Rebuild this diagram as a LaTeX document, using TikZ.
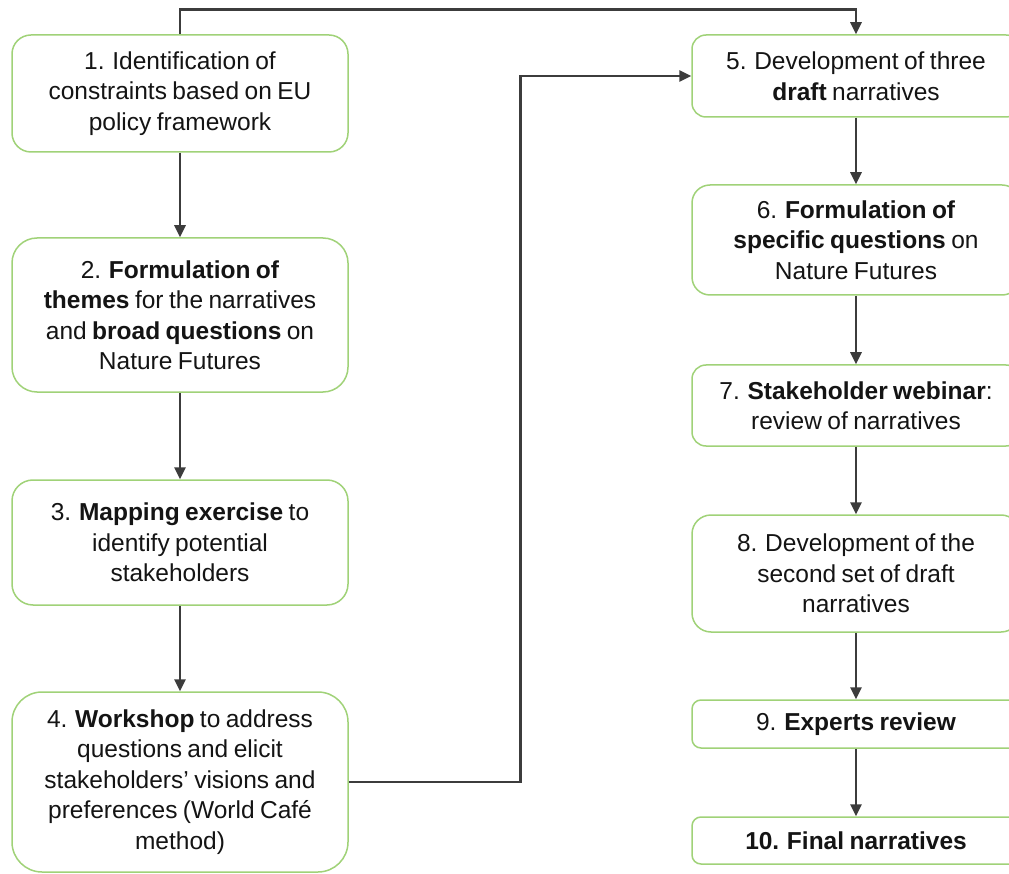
\documentclass[tikz,border=0pt]{standalone}
\usepackage{fontspec}
\setmainfont{Liberation Sans}[WordSpace=0.8]
\usetikzlibrary{arrows.meta}
\definecolor{boxgreen}{RGB}{160,210,120}
\definecolor{arrowgrey}{RGB}{60,60,60}
\definecolor{txt}{RGB}{20,20,20}
\tikzset{
  stepbox/.style={draw=boxgreen, line width=1.5pt, fill=white, rectangle,
    align=center, text=txt, inner sep=0pt,
    font=\fontsize{24.5}{30.5}\selectfont},
  flow/.style={draw=arrowgrey, line width=2.6pt,
    -{Triangle[length=12pt,width=11pt]}},
}
\begin{document}
\begin{tikzpicture}[x=1pt,y=-1pt]
\useasboundingbox (0,0) rectangle (1009,874);
\clip (0,0) rectangle (1009,874);
% left column
\node[stepbox, minimum width=336pt, minimum height=117pt, rounded corners=19pt] (b1) at (180,93.5)
  {1. Identification of\\constraints based on EU\\policy framework};
\node[stepbox, minimum width=336pt, minimum height=154pt, rounded corners=25pt] (b2) at (180,315)
  {2. \textbf{Formulation of}\\\textbf{themes} for the narratives\\and \textbf{broad questions} on\\Nature Futures};
\node[stepbox, minimum width=336pt, minimum height=125pt, rounded corners=21pt] (b3) at (180,542.5)
  {3. \textbf{Mapping exercise} to\\identify potential\\stakeholders};
\node[stepbox, minimum width=336pt, minimum height=180pt, rounded corners=30pt] (b4) at (180,782)
  {4. \textbf{Workshop} to address\\questions and elicit\\stakeholders’ visions and\\preferences (World Café\\method)};
% right column
\node[stepbox, minimum width=328pt, minimum height=82pt, rounded corners=14pt] (b5) at (856,76)
  {5. Development of three\\\textbf{draft} narratives};
\node[stepbox, minimum width=328pt, minimum height=110pt, rounded corners=18pt] (b6) at (856,240)
  {6. \textbf{Formulation of}\\\textbf{specific questions} on\\Nature Futures};
\node[stepbox, minimum width=328pt, minimum height=81pt, rounded corners=14pt] (b7) at (856,405.5)
  {7. \textbf{Stakeholder webinar}:\\review of narratives};
\node[stepbox, minimum width=328pt, minimum height=117pt, rounded corners=19pt] (b8) at (856,573.5)
  {8. Development of the\\second set of draft\\narratives};
\node[stepbox, minimum width=328pt, minimum height=48pt, rounded corners=9pt] (b9) at (856,724)
  {9. \textbf{Experts review}};
\node[stepbox, minimum width=328pt, minimum height=47pt, rounded corners=9pt] (b10) at (856,840.5)
  {\textbf{10. Final narratives}};
% connectors
\draw[flow] (b1) -- (b2);
\draw[flow] (b2) -- (b3);
\draw[flow] (b3) -- (b4);
\draw[flow] (b5) -- (b6);
\draw[flow] (b6) -- (b7);
\draw[flow] (b7) -- (b8);
\draw[flow] (b8) -- (b9);
\draw[flow] (b9) -- (b10);
\draw[flow] (b1.north) -- ++(0,-25) -| (b5.north);
\draw[flow] (b4.east) -- ++(172,0) |- (b5.west);
\end{tikzpicture}
\end{document}
